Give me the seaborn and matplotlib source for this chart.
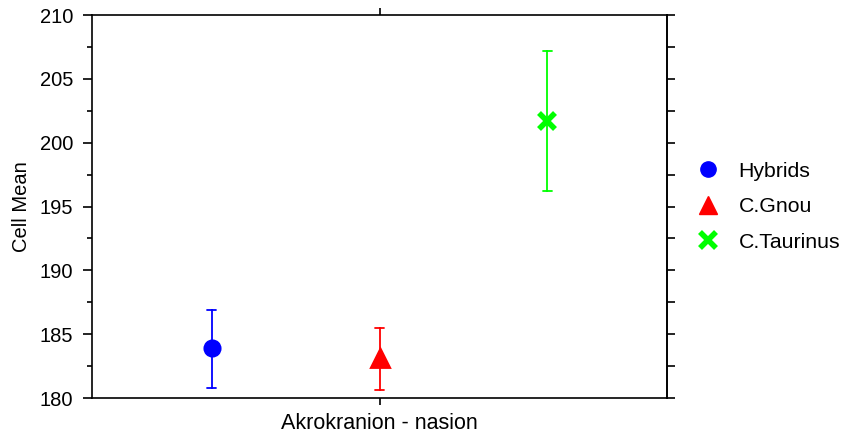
import matplotlib
matplotlib.use("Agg")
import matplotlib.pyplot as plt
from matplotlib.lines import Line2D
from matplotlib.ticker import MultipleLocator
import numpy as np
import pandas as pd
import seaborn as sns

# Cell means with lower/upper error limits per group
variable = "Akrokranion - nasion"
groups = ["Hybrids", "C.Gnou", "C.Taurinus"]
means = [183.9, 183.1, 201.7]
lower = [180.8, 180.6, 196.2]
upper = [186.9, 185.5, 207.2]
colors = ["#0000FF", "#FF0000", "#00FF00"]
markers = ["o", "^", "x"]
marker_sizes = [11, 13, 12]

# long table: lower, mean, upper per group -> median gives the mean, min/max give the bars
rows = []
for g, lo, m, hi in zip(groups, lower, means, upper):
    for v in (lo, m, hi):
        rows.append({"Variable": variable, "Group": g, "Value": v})
df = pd.DataFrame(rows)

sns.set_theme(style="white")
plt.rcParams["font.family"] = ["Liberation Sans", "DejaVu Sans"]
plt.rcParams["text.color"] = "black"
plt.rcParams["axes.labelcolor"] = "black"

fig = plt.figure(figsize=(8.42, 4.36), dpi=100)
ax = fig.add_axes([92 / 842, 1 - 398 / 436, 575 / 842, 383 / 436])

sns.pointplot(
    data=df, x="Variable", y="Value", hue="Group", hue_order=groups,
    palette=colors, markers=markers, linestyles="none",
    estimator="median", errorbar=lambda x: (np.min(x), np.max(x)),
    dodge=0.584, capsize=0.016, err_kws={"linewidth": 1.3},
    legend=False, ax=ax,
)

# tune marker sizes per group
for line in ax.lines:
    mk = line.get_marker()
    if mk in markers:
        i = markers.index(mk)
        line.set_markersize(marker_sizes[i])
        if mk == "x":
            line.set_markeredgewidth(4)
        line.set_zorder(5)

ax.set_xlim(-0.5, 0.5)
ax.set_ylim(180, 210)
ax.yaxis.set_major_locator(MultipleLocator(5))
ax.yaxis.set_minor_locator(MultipleLocator(2.5))
ax.set_xlabel("")
ax.set_ylabel("Cell Mean", fontsize=14.5, labelpad=6, color="black")

for sp in ax.spines.values():
    sp.set_visible(True)
    sp.set_color("black")
    sp.set_linewidth(1.2)

ax.tick_params(axis="y", which="major", direction="out", length=6.5, width=1.2,
               left=True, right=False, labelsize=14.5, pad=7, colors="black")
ax.tick_params(axis="y", which="minor", direction="out", length=3.6, width=1.2,
               left=True, right=False, colors="black")
ax.tick_params(axis="x", which="major", direction="out", length=5, width=1.2,
               bottom=True, top=True, labelsize=15.5, pad=6, colors="black")

# right-hand axis ticks without labels
sec = ax.secondary_yaxis("right")
sec.yaxis.set_major_locator(MultipleLocator(5))
sec.yaxis.set_minor_locator(MultipleLocator(2.5))
sec.tick_params(which="both", direction="out", length=6, width=1.2,
                labelright=False, colors="black")
sec.spines["right"].set_linewidth(1.2)
sec.spines["right"].set_color("black")

handles = [
    Line2D([], [], linestyle="none", marker=m, color=c, markersize=s,
           markeredgewidth=(4 if m == "x" else 1))
    for m, c, s in zip(markers, colors, marker_sizes)
]
leg = fig.legend(handles, groups, loc="center left", bbox_to_anchor=(0.8025, 0.526),
                 frameon=False, fontsize=15.3, handletextpad=0.85, labelspacing=0.78,
                 handlelength=1.2)

fig.savefig("out.png", dpi=100)
